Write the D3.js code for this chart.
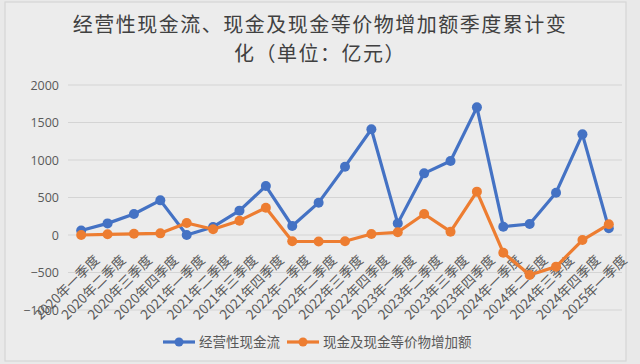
<!DOCTYPE html>
<html>
<head>
<meta charset="utf-8">
<script src="https://cdn.jsdelivr.net/npm/d3@7"></script>
<style>
  html, body { margin: 0; padding: 0; background: #e9e9e9; }
  svg { display: block; }
</style>
</head>
<body>
<svg id="chart" width="640" height="364"></svg>
<script>
// quarters 2020Q1 .. 2025Q1
const quarters = [
    "2020年一季度", "2020年二季度", "2020年三季度", "2020年四季度",
    "2021年一季度", "2021年二季度", "2021年三季度", "2021年四季度",
    "2022年一季度", "2022年二季度", "2022年三季度", "2022年四季度",
    "2023年一季度", "2023年二季度", "2023年三季度", "2023年四季度",
    "2024年一季度", "2024年二季度", "2024年三季度", "2024年四季度",
    "2025年一季度"
];
const operatingCash = [60, 155, 280, 462, 0, 107, 325, 653, 120, 431, 911, 1410,
    155, 822, 987, 1702, 111, 147, 564, 1342, 89];
const cashIncrease = [0, 9, 16, 22, 160, 76, 191, 364, -84, -87, -84, 13,
    36, 280, 44, 578, -236, -533, -422, -67, 143];
const yTicks = [-1000, -500, 0, 500, 1000, 1500, 2000];
const seriesNames = ["经营性现金流", "现金及现金等价物增加额"];
const seriesColors = ["#4472c4", "#ed7d31"];
const titleLines = ["经营性现金流、现金及现金等价物增加额季度累计变", "化（单位：亿元）"];

let svg = d3.select("#chart"),
    margin = {top: 85, right: 18, bottom: 54, left: 68},
    width = +svg.attr("width") - margin.left - margin.right;

// chart frame
svg.append("rect")
    .attr("x", 5).attr("y", 2)
    .attr("width", 621).attr("height", 359)
    .attr("fill", "#ececec")
    .attr("stroke", "#d6d6d6")
    .attr("stroke-width", 1.2);

let title = svg.append("g")
    .style("font", "20px 'Noto Sans CJK SC'")
    .style("letter-spacing", "1.5px");
title.selectAll("text")
    .data(titleLines)
    .enter().append("text")
    .attr("text-anchor", "middle")
    .attr("fill", "#404040")
    .attr("x", 320)
    .attr("y", (d, i) => 32 + i * 29)
    .text(d => d);

let g = svg.append("g").attr("transform", "translate(" + margin.left + "," + margin.top + ")");

let x = d3.scaleBand().domain(quarters).range([0, width]);
let y = d3.scaleLinear().domain([-1000, 2000]).range([225, 0]);

// gridlines
g.append("g")
    .selectAll("line")
    .data(yTicks)
    .enter().append("line")
    .attr("x1", 0).attr("x2", width)
    .attr("y1", d => y(d)).attr("y2", d => y(d))
    .attr("stroke", "#d4d4d4")
    .attr("stroke-width", 1);

let yAxis = g.append("g")
    .call(d3.axisLeft(y).tickValues(yTicks).tickFormat(d3.format("d")).tickSize(0).tickPadding(9));
yAxis.select(".domain").remove();
yAxis.selectAll("text")
    .style("font", "12.5px 'Open Sans', sans-serif")
    .attr("fill", "#595959");

// category labels, rotated
g.append("g")
    .selectAll("text")
    .data(quarters)
    .enter().append("text")
    .attr("transform", d => "translate(" + (x(d) + x.bandwidth() / 2 + 19) + "," + (y(0) + 26) + ") rotate(-45)")
    .attr("text-anchor", "end")
    .style("font", "13.5px 'Noto Sans CJK SC'")
    .attr("fill", "#595959")
    .text(d => d);

let line = d3.line()
    .x((d, i) => x(quarters[i]) + x.bandwidth() / 2)
    .y(d => y(d));

[operatingCash, cashIncrease].forEach(function (values, k) {
    let s = g.append("g");
    s.append("path")
        .attr("d", line(values))
        .attr("fill", "none")
        .attr("stroke", seriesColors[k])
        .attr("stroke-width", 3.2)
        .attr("stroke-linejoin", "round");
    s.selectAll("circle")
        .data(values)
        .enter().append("circle")
        .attr("cx", (d, i) => x(quarters[i]) + x.bandwidth() / 2)
        .attr("cy", d => y(d))
        .attr("r", 5)
        .attr("fill", seriesColors[k]);
});

// legend
let legendX = [163, 287];
let legend = svg.append("g");
seriesNames.forEach(function (name, k) {
    let lg = legend.append("g").attr("transform", "translate(" + legendX[k] + ",342)");
    lg.append("line")
        .attr("x1", 0).attr("x2", 32)
        .attr("stroke", seriesColors[k])
        .attr("stroke-width", 3.2);
    lg.append("circle")
        .attr("cx", 16).attr("r", 4.5)
        .attr("fill", seriesColors[k]);
    lg.append("text")
        .attr("x", 36).attr("y", 5)
        .style("font", "13.5px 'Noto Sans CJK SC'")
        .attr("fill", "#595959")
        .text(name);
});
</script>
</body>
</html>
